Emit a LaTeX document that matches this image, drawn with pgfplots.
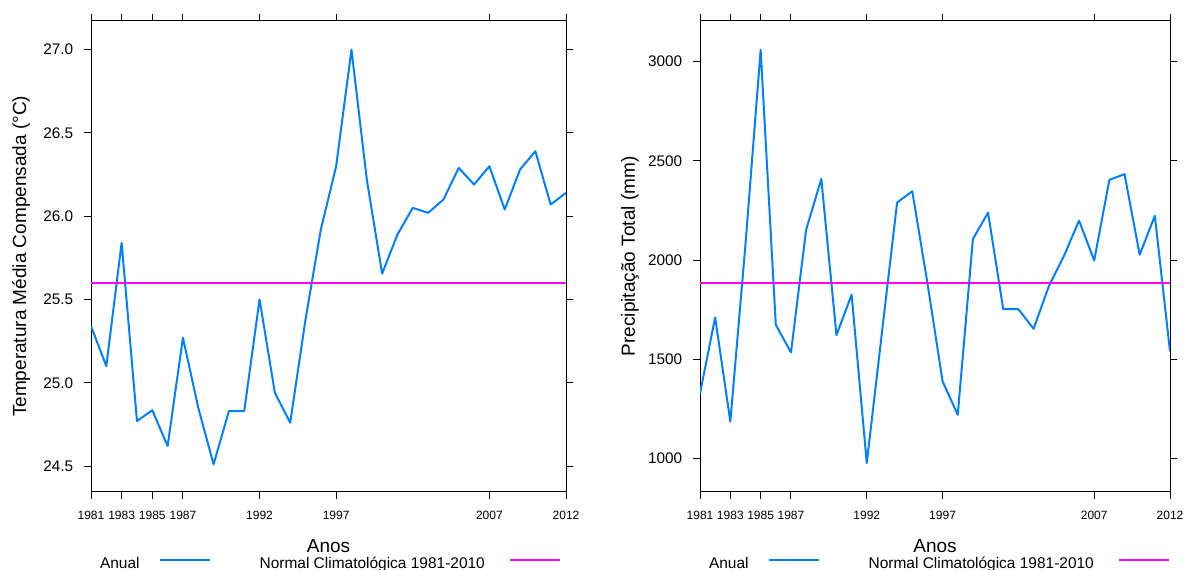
\documentclass[border=0pt]{standalone}
\usepackage{fontspec}
\setmainfont{Liberation Sans}
\usepackage{pgfplots}
\usepackage{pgfplotstable}
\pgfplotsset{compat=1.18}
\definecolor{lblue}{HTML}{0080FF}
\definecolor{lmag}{HTML}{FF00FF}

\pgfplotstableread{
ano temp
1981 25.34
1982 25.10
1983 25.84
1984 24.77
1985 24.835
1986 24.62
1987 25.27
1988 24.85
1989 24.51
1990 24.83
1991 24.83
1992 25.50
1993 24.94
1994 24.76
1995 25.38
1996 25.92
1997 26.30
1998 27.00
1999 26.22
2000 25.655
2001 25.89
2002 26.05
2003 26.02
2004 26.10
2005 26.29
2006 26.19
2007 26.30
2008 26.04
2009 26.28
2010 26.39
2011 26.07
2012 26.14
}\temptable

\pgfplotstableread{
ano prec
1981 1329
1982 1711
1983 1187
1984 2080
1985 3059
1986 1674
1987 1535
1988 2153
1989 2409
1990 1622
1991 1826
1992 978
1993 1635
1994 2290
1995 2347
1996 1885
1997 1389
1998 1221
1999 2106
2000 2239
2001 1753
2002 1753
2003 1654
2004 1867
2005 2020
2006 2199
2007 1998
2008 2404
2009 2433
2010 2027
2011 2223
2012 1540
}\prectable

\pgfplotsset{
  panel/.style={
    scale only axis,
    height=353.5pt,
    xmin=1981, xmax=2012,
    xtick={1981,1983,1985,1987,1992,1997,2007,2012},
    xticklabels={1981,1983,1985,1987,1992,1997,2007,2012},
    tick align=outside,
    major tick length=5.25pt,
    xticklabel pos=lower, yticklabel pos=left,
    xtick pos=both, ytick pos=both,
    axis line style={black, line width=0.75pt},
    every tick/.style={black, line width=0.75pt},
    /pgf/number format/assume math mode=true,
    xticklabel style={font=\fontsize{9}{9}\selectfont, inner sep=0pt, yshift=-8.75pt},
    yticklabel style={font=\fontsize{11.5}{11.5}\selectfont, inner sep=0pt, xshift=-7.95pt},
    label style={font=\fontsize{14.25}{14.25}\selectfont},
    xlabel={Anos},
    xlabel style={at={(axis description cs:0.5,0)}, anchor=center, inner sep=0pt, yshift=-40.5pt},
    ylabel style={at={(axis description cs:0,0.5)}, anchor=center, inner sep=0pt, yshift=52.5pt},
    legend columns=2, legend plot pos=right,
    legend image code/.code={\draw[##1] (0pt,0.3em) -- (37.5pt,0.3em);},
    legend style={draw=none, fill=none, inner sep=0pt, at={(axis description cs:0,0)}, anchor=west, xshift=6.6pt, yshift=-54pt, font=\fontsize{11.6}{11.6}\selectfont, nodes={inner sep=0pt},
      /tikz/column 1/.style={column sep=14.25pt},
      /tikz/column 2/.style={column sep=36.75pt},
      /tikz/column 3/.style={column sep=18pt}},
    legend cell align=left,
  }
}

\begin{document}
\begin{tikzpicture}
\path[use as bounding box] (0,0) rectangle (888pt,427.5pt);
\begin{axis}[panel, at={(68.25pt,58.5pt)}, anchor=south west, width=356.25pt,
  ymin=24.344, ymax=27.174,
  ytick={24.5,25,25.5,26,26.5,27},
  yticklabel style={/pgf/number format/.cd, fixed, fixed zerofill, precision=1},
  ylabel={Temperatura Média Compensada (°C)}]
\addplot[lblue, line width=1.5pt, line join=round] table[x=ano, y=temp] {\temptable};
\addlegendentry{Anual}
\addplot[lmag, line width=1.5pt] coordinates {(1981,25.6) (2012,25.6)};
\addlegendentry{Normal Climatológica 1981-2010}
\end{axis}
\begin{axis}[panel, at={(525pt,58.5pt)}, anchor=south west, width=352.5pt,
  ymin=832, ymax=3206,
  ytick={1000,1500,2000,2500,3000},
  yticklabel style={/pgf/number format/1000 sep={}},
  ylabel={Precipitação Total (mm)}]
\addplot[lblue, line width=1.5pt, line join=round] table[x=ano, y=prec] {\prectable};
\addlegendentry{Anual}
\addplot[lmag, line width=1.5pt] coordinates {(1981,1887) (2012,1887)};
\addlegendentry{Normal Climatológica 1981-2010}
\end{axis}
\end{tikzpicture}
\end{document}
